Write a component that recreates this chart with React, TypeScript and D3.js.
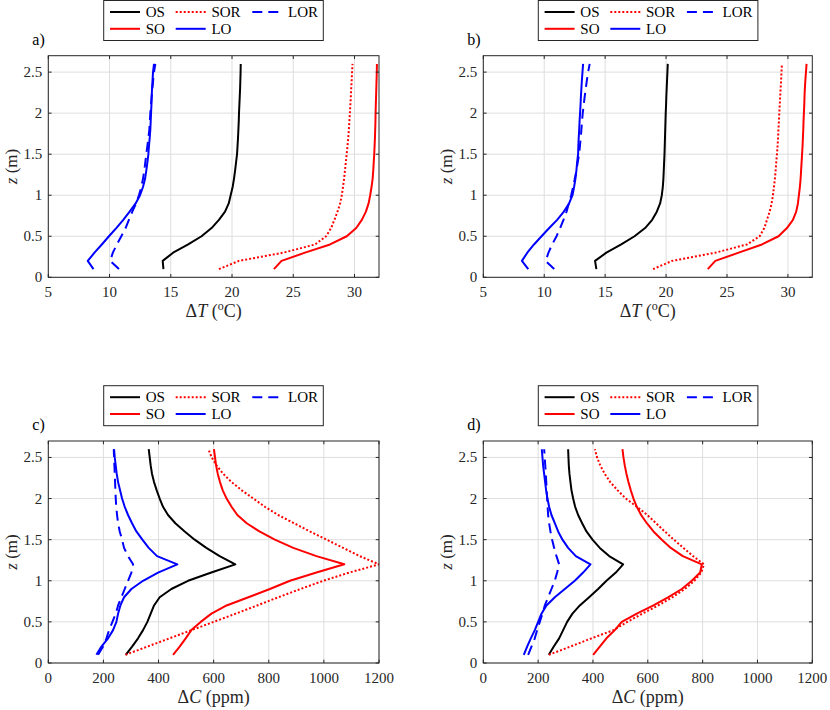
import React from 'react';
import * as d3 from 'd3';

// ---------- data ----------
const Z = [0.1, 0.2, 0.3, 0.4, 0.5, 0.6, 0.7, 0.8, 0.9, 1.0, 1.1, 1.2, 1.3, 1.4, 1.5, 1.6, 1.7, 1.8, 1.9, 2.0, 2.1, 2.2, 2.3, 2.4, 2.5, 2.6];

const T_TICKS = [5, 10, 15, 20, 25, 30];
const C_TICKS = [0, 200, 400, 600, 800, 1000, 1200];
const Z_TICKS = [0, 0.5, 1, 1.5, 2, 2.5];

// panel a: ΔT
const A_OS = [14.40, 14.34, 15.19, 16.42, 17.51, 18.33, 18.93, 19.43, 19.73, 19.89, 20.05, 20.16, 20.25, 20.33, 20.41, 20.45, 20.49, 20.52, 20.55, 20.57, 20.60, 20.63, 20.66, 20.68, 20.70, 20.71];
const A_SO = [23.42, 24.04, 25.96, 28.0, 29.37, 30.14, 30.6, 30.93, 31.15, 31.28, 31.39, 31.48, 31.53, 31.57, 31.61, 31.64, 31.67, 31.69, 31.71, 31.72, 31.74, 31.76, 31.78, 31.80, 31.82, 31.83];
const A_SOR = [18.93, 20.57, 24.18, 26.78, 27.68, 28.09, 28.36, 28.61, 28.83, 28.96, 29.06, 29.15, 29.22, 29.29, 29.36, 29.43, 29.49, 29.54, 29.58, 29.62, 29.66, 29.70, 29.73, 29.77, 29.80, 29.84];
const A_LO = [8.69, 8.22, 8.77, 9.37, 9.95, 10.55, 11.12, 11.64, 12.13, 12.49, 12.73, 12.9, 13.0, 13.09, 13.17, 13.22, 13.28, 13.33, 13.36, 13.39, 13.42, 13.44, 13.47, 13.51, 13.55, 13.63];
const A_LOR = [10.77, 10.05, 10.27, 10.6, 10.96, 11.31, 11.58, 11.86, 12.16, 12.4, 12.6, 12.73, 12.84, 12.92, 13.0, 13.09, 13.17, 13.25, 13.29, 13.33, 13.38, 13.44, 13.50, 13.56, 13.63, 13.74];

// panel b: ΔT
const B_OS = [14.28, 14.17, 15.1, 16.32, 17.41, 18.28, 18.86, 19.24, 19.51, 19.65, 19.73, 19.78, 19.81, 19.84, 19.87, 19.89, 19.91, 19.93, 19.95, 19.97, 20.0, 20.02, 20.05, 20.08, 20.11, 20.14];
const B_SO = [23.42, 24.04, 25.96, 27.87, 29.23, 29.92, 30.41, 30.68, 30.82, 30.9, 30.98, 31.04, 31.08, 31.12, 31.16, 31.2, 31.23, 31.26, 31.28, 31.31, 31.34, 31.36, 31.39, 31.43, 31.48, 31.53];
const B_SOR = [18.93, 20.49, 24.04, 26.64, 27.68, 28.06, 28.28, 28.5, 28.66, 28.77, 28.85, 28.93, 28.99, 29.04, 29.1, 29.15, 29.19, 29.22, 29.26, 29.29, 29.33, 29.36, 29.4, 29.44, 29.47, 29.51];
const B_LO = [8.69, 8.17, 8.61, 9.16, 9.78, 10.41, 11.06, 11.61, 12.04, 12.32, 12.45, 12.56, 12.64, 12.7, 12.78, 12.8, 12.83, 12.87, 12.9, 12.94, 12.98, 13.01, 13.05, 13.09, 13.14, 13.19];
const B_LOR = [10.82, 10.11, 10.35, 10.65, 11.01, 11.31, 11.58, 11.83, 12.02, 12.21, 12.37, 12.51, 12.64, 12.75, 12.86, 12.93, 13.0, 13.05, 13.1, 13.16, 13.24, 13.32, 13.41, 13.5, 13.6, 13.73];

// panel c: ΔC
const C_OS = [281, 304, 325.7, 343.8, 359.5, 371.6, 383.7, 404.2, 446.5, 507, 591.6, 678.6, 621.8, 573.4, 531.1, 494.9, 461, 434.4, 416.3, 404.2, 393.4, 383.7, 376.4, 371.6, 368, 364.4];
const C_SO = [452.6, 476.7, 498.5, 519, 553, 592, 647, 726, 804, 877, 973, 1074, 973, 889, 822, 766, 720, 686, 665, 647, 633, 623, 615, 609, 605, 601];
const C_SOR = [280, 360, 440, 520, 600, 680, 758, 835, 915, 998, 1092, 1200, 1130, 1070, 1010, 949, 892, 834, 786, 744, 702, 665, 635, 611, 593, 581];
const C_LO = [174.6, 192.7, 216.9, 235, 247.1, 253.2, 261.6, 274.9, 301.5, 343.8, 398.2, 468.3, 394.6, 364.4, 341.4, 319.6, 303.9, 289.4, 277.3, 267.7, 260.4, 253.2, 248.3, 244.7, 241.1, 238.7];
const C_LOR = [180.7, 198.8, 210.9, 220.5, 232.6, 244.7, 253.2, 265.3, 277.3, 289.4, 301.5, 307.6, 289.4, 274.9, 267.7, 259.2, 253.2, 249.5, 246.5, 244.7, 243.5, 242.3, 241.1, 239.9, 238.7, 237.5];

// panel d: ΔC
const D_OS = [238.9, 257.1, 276.6, 291.2, 305.8, 325.2, 352, 386, 418.8, 449.2, 483.3, 510, 459, 424.9, 398.2, 376.3, 360.5, 345.9, 335, 327.7, 321.7, 317.9, 314.3, 311.9, 310.6, 309.4];
const D_SO = [400.6, 424.9, 449.2, 479.6, 505, 559.9, 620.7, 675.4, 724, 760.5, 790.9, 797, 727.7, 683.9, 651.1, 620.7, 596.4, 575.7, 559.9, 547.7, 538, 529.5, 522.2, 516.1, 511.2, 507.6];
const D_SOR = [238.9, 318, 394.5, 475, 525, 580, 638, 690, 735, 770, 795, 805, 765, 730, 695, 662, 630, 598, 560, 520, 490, 463, 443, 427, 415, 407];
const D_LO = [147.7, 159.9, 173.3, 187.8, 200, 212.2, 230.4, 260.8, 297.3, 333.7, 364.1, 390.9, 337.4, 309.4, 288.8, 272.9, 260.8, 248.6, 240.1, 234, 229.2, 225.5, 221.9, 218.2, 215.8, 213.4];
const D_LOR = [163.5, 175.7, 187.8, 196.4, 206, 215.8, 224.3, 236.5, 248.6, 260.8, 269.3, 276.6, 266.9, 258.4, 251.1, 245, 240.1, 236.5, 234.5, 232.8, 231.2, 229.6, 228, 226, 224, 221.9];

const SERIES_NAMES = ['OS', 'SO', 'SOR', 'LO', 'LOR'];

// ---------- styles ----------
const STYLE: Record<string, { color: string; dash?: string }> = {
  OS: { color: '#000000' },
  SO: { color: '#ff0000' },
  SOR: { color: '#ff0000', dash: '2,2' },
  LO: { color: '#0000ff' },
  LOR: { color: '#0000ff', dash: '10,6' },
};

const FONT = 'Liberation Serif, DejaVu Serif, serif';
const AXIS = '#262626';
const GRID = '#dedede';

type PanelDef = {
  id: string;
  label: string;
  left: number; right: number; top: number; bottom: number;
  xDomain: [number, number];
  xTicks: number[];
  xVar: string;
  xUnit: 'T' | 'C';
  series: Record<string, number[]>;
  legendX: number; legendY: number;
};

const LAYOUT_COL = [{ left: 48.3, right: 379 }, { left: 483.3, right: 812.3 }];
const LAYOUT_ROW = [{ top: 55.7, bottom: 277.3, legendY: 0.5 }, { top: 441, bottom: 663, legendY: 385.7 }];

const PANELS: PanelDef[] = [
  { id: 'a', label: 'a)', ...LAYOUT_COL[0], top: LAYOUT_ROW[0].top, bottom: LAYOUT_ROW[0].bottom, xDomain: [5, 32], xTicks: T_TICKS, xVar: 'T', xUnit: 'T',
    series: { OS: A_OS, SO: A_SO, SOR: A_SOR, LO: A_LO, LOR: A_LOR }, legendX: 103.7, legendY: LAYOUT_ROW[0].legendY },
  { id: 'b', label: 'b)', ...LAYOUT_COL[1], top: LAYOUT_ROW[0].top, bottom: LAYOUT_ROW[0].bottom, xDomain: [5, 32], xTicks: T_TICKS, xVar: 'T', xUnit: 'T',
    series: { OS: B_OS, SO: B_SO, SOR: B_SOR, LO: B_LO, LOR: B_LOR }, legendX: 538.3, legendY: LAYOUT_ROW[0].legendY },
  { id: 'c', label: 'c)', ...LAYOUT_COL[0], top: LAYOUT_ROW[1].top, bottom: LAYOUT_ROW[1].bottom, xDomain: [0, 1200], xTicks: C_TICKS, xVar: 'C', xUnit: 'C',
    series: { OS: C_OS, SO: C_SO, SOR: C_SOR, LO: C_LO, LOR: C_LOR }, legendX: 103.7, legendY: LAYOUT_ROW[1].legendY },
  { id: 'd', label: 'd)', ...LAYOUT_COL[1], top: LAYOUT_ROW[1].top, bottom: LAYOUT_ROW[1].bottom, xDomain: [0, 1200], xTicks: C_TICKS, xVar: 'C', xUnit: 'C',
    series: { OS: D_OS, SO: D_SO, SOR: D_SOR, LO: D_LO, LOR: D_LOR }, legendX: 538.3, legendY: LAYOUT_ROW[1].legendY },
];

function Legend({ x, y }: { x: number; y: number }) {
  // column-major: OS, SO | SOR, LO | LOR
  const cols = [6.3, 72, 148.6];
  const rows = [11.5, 28.3];
  const W = 219.6, H = 40;
  return (
    <g transform={`translate(${x},${y})`}>
      <rect x={0} y={0} width={W} height={H} fill="#ffffff" stroke={AXIS} strokeWidth={1} />
      {SERIES_NAMES.map((name, i) => {
        const c = Math.floor(i / 2), r = i % 2;
        const lx = cols[c], ly = rows[r];
        const st = STYLE[name];
        return (
          <g key={name}>
            <line x1={lx} x2={lx + 30} y1={ly} y2={ly} stroke={st.color} strokeWidth={2} strokeDasharray={st.dash} />
            <text x={lx + 35.7} y={ly + 5} fontSize={15} fontFamily={FONT} fill="#000">{name}</text>
          </g>
        );
      })}
    </g>
  );
}

function Panel({ p }: { p: PanelDef }) {
  const x = d3.scaleLinear().domain(p.xDomain).range([p.left, p.right]);
  const y = d3.scaleLinear().domain([0, 2.7]).range([p.bottom, p.top]);
  const line = d3.line<[number, number]>().x(d => x(d[0])).y(d => y(d[1]));
  const tickLen = 3.3;
  const clipId = `clip-${p.id}`;
  const cx = (p.left + p.right) / 2;
  const cy = (p.top + p.bottom) / 2;
  return (
    <g>
      <defs>
        <clipPath id={clipId}>
          <rect x={p.left} y={p.top} width={p.right - p.left} height={p.bottom - p.top} />
        </clipPath>
      </defs>
      <rect x={p.left} y={p.top} width={p.right - p.left} height={p.bottom - p.top} fill="#fff" />
      {p.xTicks.map(t => (
        <line key={'gx' + t} x1={x(t)} x2={x(t)} y1={p.top} y2={p.bottom} stroke={GRID} strokeWidth={1} />
      ))}
      {Z_TICKS.map(t => (
        <line key={'gy' + t} x1={p.left} x2={p.right} y1={y(t)} y2={y(t)} stroke={GRID} strokeWidth={1} />
      ))}
      <g clipPath={`url(#${clipId})`}>
        {SERIES_NAMES.map(name => {
          const vals = p.series[name];
          const pts: [number, number][] = vals.map((v, i) => [v, Z[i]]);
          const st = STYLE[name];
          return (
            <path key={name} d={line(pts) || ''} fill="none" stroke={st.color} strokeWidth={2}
              strokeDasharray={st.dash} strokeLinejoin="round" />
          );
        })}
      </g>
      {p.xTicks.map(t => (
        <g key={'tx' + t}>
          <line x1={x(t)} x2={x(t)} y1={p.bottom} y2={p.bottom - tickLen} stroke={AXIS} strokeWidth={1} />
          <line x1={x(t)} x2={x(t)} y1={p.top} y2={p.top + tickLen} stroke={AXIS} strokeWidth={1} />
          <text x={x(t)} y={p.bottom + 19.5} textAnchor="middle" fontSize={15} fontFamily={FONT} fill={AXIS}>{t}</text>
        </g>
      ))}
      {Z_TICKS.map(t => (
        <g key={'ty' + t}>
          <line x1={p.left} x2={p.left + tickLen} y1={y(t)} y2={y(t)} stroke={AXIS} strokeWidth={1} />
          <line x1={p.right} x2={p.right - tickLen} y1={y(t)} y2={y(t)} stroke={AXIS} strokeWidth={1} />
          <text x={p.left - 6} y={y(t) + 5} textAnchor="end" fontSize={15} fontFamily={FONT} fill={AXIS}>{t}</text>
        </g>
      ))}
      <rect x={p.left} y={p.top} width={p.right - p.left} height={p.bottom - p.top} fill="none" stroke={AXIS} strokeWidth={1} />
      <text x={cx} y={p.bottom + 40} textAnchor="middle" fontSize={18} fontFamily={FONT} fill={AXIS}>
        <tspan>Δ</tspan><tspan fontStyle="italic">{p.xVar}</tspan>
        {p.xUnit === 'T' ? (
          <>
            <tspan> (</tspan><tspan fontSize={12} dy={-7}>o</tspan><tspan dy={7}>C)</tspan>
          </>
        ) : (
          <tspan> (ppm)</tspan>
        )}
      </text>
      <text transform={`translate(${p.left - 31},${cy}) rotate(-90)`} textAnchor="middle" fontSize={17} fontFamily={FONT} fill={AXIS}>
        <tspan fontStyle="italic">z</tspan><tspan> (m)</tspan>
      </text>
      <text x={p.left - 16} y={p.top - 11} fontSize={16} fontFamily={FONT} fill="#000">{p.label}</text>
      <Legend x={p.legendX} y={p.legendY} />
    </g>
  );
}

export default function App() {
  return (
    <svg width={830} height={710} viewBox="0 0 830 710"
      style={{ position: 'absolute', left: 0, top: 0, background: '#fff' }}>
      <rect x={0} y={0} width={830} height={710} fill="#fff" />
      {PANELS.map(p => <Panel key={p.id} p={p} />)}
    </svg>
  );
}
